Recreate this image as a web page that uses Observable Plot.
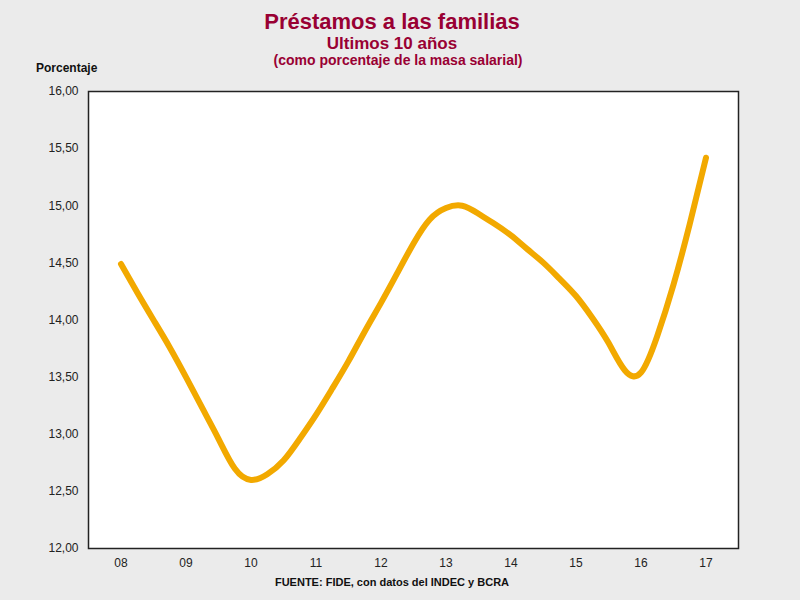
<!DOCTYPE html>
<html>
<head>
<meta charset="utf-8">
<script src="https://cdn.jsdelivr.net/npm/d3@7"></script>
<script src="https://cdn.jsdelivr.net/npm/@observablehq/plot@0.6"></script>
<style>
  html, body { margin: 0; padding: 0; background: #ebebeb; width: 800px; height: 600px; overflow: hidden; }
  body { font-family: "Liberation Sans", Arial, sans-serif; }
  #header { position: relative; height: 60px; text-align: center; color: #990033; font-weight: bold; }
  #t1 { position: absolute; left: 0; width: 784px; top: 10px; font-size: 22px; line-height: 24px; }
  #t2 { position: absolute; left: 0; width: 784px; top: 36px; font-size: 17px; line-height: 16px; }
  #t3 { position: absolute; left: 0; width: 796px; top: 53px; font-size: 14px; line-height: 14px; }
  #ylab { position: absolute; left: 36px; top: 61px; font-size: 12px; font-weight: bold; color: #111; line-height: 14px; }
  #chart svg { display: block; }
  #caption { text-align: center; width: 784px; font-size: 11px; font-weight: bold; color: #111; line-height: 13px; }
</style>
</head>
<body>
<div id="header">
  <div id="t1">Préstamos a las familias</div>
  <div id="t2">Ultimos 10 años</div>
  <div id="t3">(como porcentaje de la masa salarial)</div>
  <div id="ylab">Porcentaje</div>
</div>
<div id="chart"></div>
<div id="caption">FUENTE: FIDE, con datos del INDEC y BCRA</div>
<script>
// Trimestres (año decimal, 08 = 2008) y valores
const periodos = [8.0, 8.25, 8.5, 8.75, 9.0, 9.25, 9.5, 9.75, 10.0, 10.25, 10.5, 10.75,
                  11.0, 11.25, 11.5, 11.75, 12.0, 12.25, 12.5, 12.75, 13.0, 13.25, 13.5, 13.75,
                  14.0, 14.25, 14.5, 14.75, 15.0, 15.25, 15.5, 15.75, 16.0, 16.25, 16.5, 16.75, 17.0];
const valores = [14.49, 14.24, 14.00, 13.76, 13.50, 13.23, 12.96, 12.70, 12.60, 12.65, 12.77, 12.96,
                 13.17, 13.40, 13.64, 13.90, 14.15, 14.41, 14.67, 14.88, 14.98, 15.00, 14.93, 14.84,
                 14.74, 14.62, 14.50, 14.36, 14.21, 14.02, 13.80, 13.56, 13.54, 13.86, 14.31, 14.84, 15.42];
const anios = [8, 9, 10, 11, 12, 13, 14, 15, 16, 17];
const yTicks = [12, 12.5, 13, 13.5, 14, 14.5, 15, 15.5, 16];

const data = periodos.map((p, i) => ({periodo: p, valor: valores[i]}));

const chart = Plot.plot({
  width: 800,
  height: 516,
  marginTop: 31,
  marginBottom: 28,
  marginLeft: 88,
  marginRight: 62,
  style: {background: "transparent", fontFamily: "'Liberation Sans', Arial, sans-serif", fontSize: "12px", color: "#222"},
  x: {domain: [7.5, 17.5], ticks: anios, tickFormat: d => String(d).padStart(2, "0"), tickSize: 0, tickPadding: 10, label: null},
  y: {domain: [12, 16], ticks: yTicks, tickFormat: d => d3.format(".2f")(d).replace(".", ","), tickSize: 0, tickPadding: 10, label: null},
  marks: [
    Plot.rect([0], {x1: 7.5, x2: 17.5, y1: 12, y2: 16, fill: "white"}),
    Plot.line(data, {x: "periodo", y: "valor", stroke: "#f2a900", strokeWidth: 6, curve: "natural", strokeLinecap: "round"}),
    Plot.frame({stroke: "#222", strokeWidth: 1.5})
  ]
});
document.getElementById("chart").appendChild(chart);
</script>
</body>
</html>
